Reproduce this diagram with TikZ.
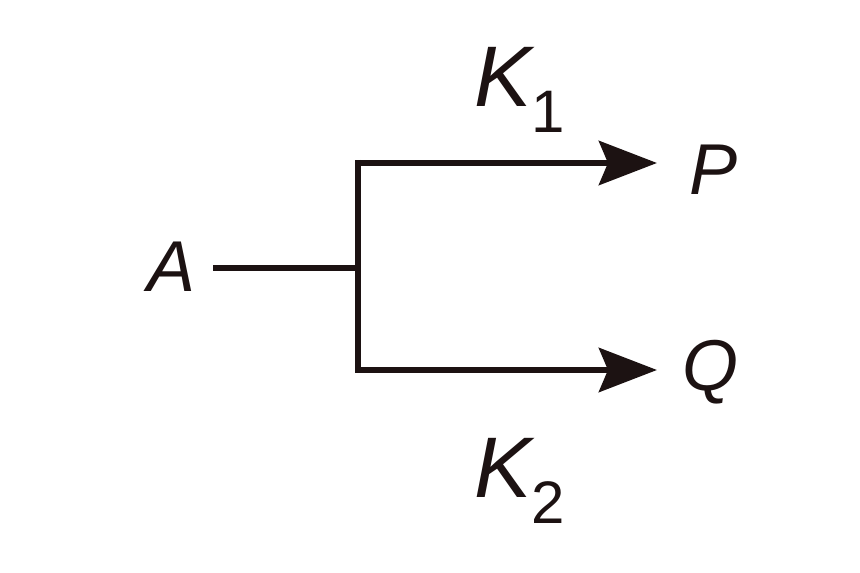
\documentclass[tikz,border=0pt]{standalone}
\usepackage{fontspec}
\setmainfont{Liberation Sans}
\usetikzlibrary{arrows.meta}
\definecolor{ink}{HTML}{1C1212}
\begin{document}
\begin{tikzpicture}[x=1pt,y=1pt,
  lbl/.style={font=\fontsize{72}{72}\selectfont\itshape, text=ink, inner sep=0pt},
  klbl/.style={font=\fontsize{86}{86}\selectfont\itshape, text=ink, inner sep=0pt, anchor=base west},
  wire/.style={draw=ink, line width=6.5pt},
  arr/.style={wire, -{Stealth[length=58pt,width=44pt,inset=9pt]}}]
\fill[white] (0,0) rectangle (860,573);
\useasboundingbox (0,0) rectangle (860,573);
\node[lbl] (A) at (172,306) {A};
\node[lbl] (P) at (714,403) {P};
\node[lbl] (Q) at (710,201) {Q};
\node[klbl] (K1) at (474,466) {K\raisebox{-0.3em}{\fontsize{60}{60}\selectfont\upshape 1}};
\node[klbl] (K2) at (474,75) {K\raisebox{-0.3em}{\fontsize{60}{60}\selectfont\upshape 2}};
\coordinate (s) at (213,305);
\coordinate (j) at (358,305);
\coordinate (jt) at (358,410);
\coordinate (jb) at (358,203);
\coordinate (et) at (657,410);
\coordinate (eb) at (657,203);
\draw[wire] (s) -- (j);
\draw[wire] ([yshift=3pt]jt) -- ([yshift=-3pt]jb);
\draw[arr] ([xshift=-3pt]jt) -- (et);
\draw[arr] ([xshift=-3pt]jb) -- (eb);
\end{tikzpicture}
\end{document}
